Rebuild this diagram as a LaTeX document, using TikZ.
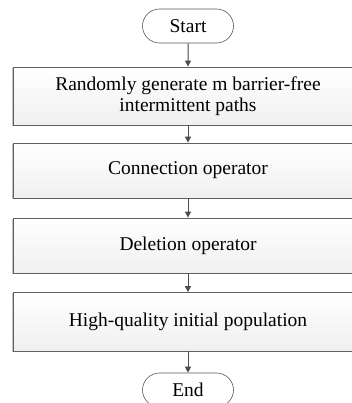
\documentclass[tikz,border=0pt]{standalone}
\usepackage{fontspec}
\setmainfont{Liberation Serif}
\usetikzlibrary{shapes.misc}
\usetikzlibrary{shadows}
\usetikzlibrary{arrows.meta}

\begin{document}
\begin{tikzpicture}[x=1pt,y=1pt,
  font=\fontsize{19.5}{21}\selectfont,
  procbox/.style={rectangle, draw=gray!75!black, line width=0.8pt, top color=white, bottom color=gray!12,
    minimum width=350pt, minimum height=#1, align=center, inner sep=2pt,
    drop shadow={shadow xshift=-0.8pt, shadow yshift=-0.8pt, fill=gray!60, opacity=0.8}},
  term/.style={rounded rectangle, draw=gray!70!black, line width=0.6pt, fill=white,
    minimum width=95pt, minimum height=34pt, inner sep=2pt},
  flow/.style={-{Triangle[length=6pt,width=6pt]}, draw=gray!60!black, fill=gray!60!black, line width=1pt}]

\useasboundingbox (0,0) rectangle (351,-403);

% terminals
\node (start) [term] at (188,-26) {Start};
\node (end) [term] at (188,-390) {End};

% process steps
\node (gen) [procbox=58pt] at (188,-96) {Randomly generate m barrier-free\\intermittent paths};
\node (conn) [procbox=55pt] at (188,-170.5) {Connection operator};
\node (del) [procbox=55pt] at (188,-245.5) {Deletion operator};
\node (pop) [procbox=59pt] at (188,-322) {High-quality initial population};

\draw [flow] (start) -- (gen);
\draw [flow] (gen) -- (conn);
\draw [flow] (conn) -- (del);
\draw [flow] (del) -- (pop);
\draw [flow] (pop) -- (end);
\end{tikzpicture}
\end{document}
